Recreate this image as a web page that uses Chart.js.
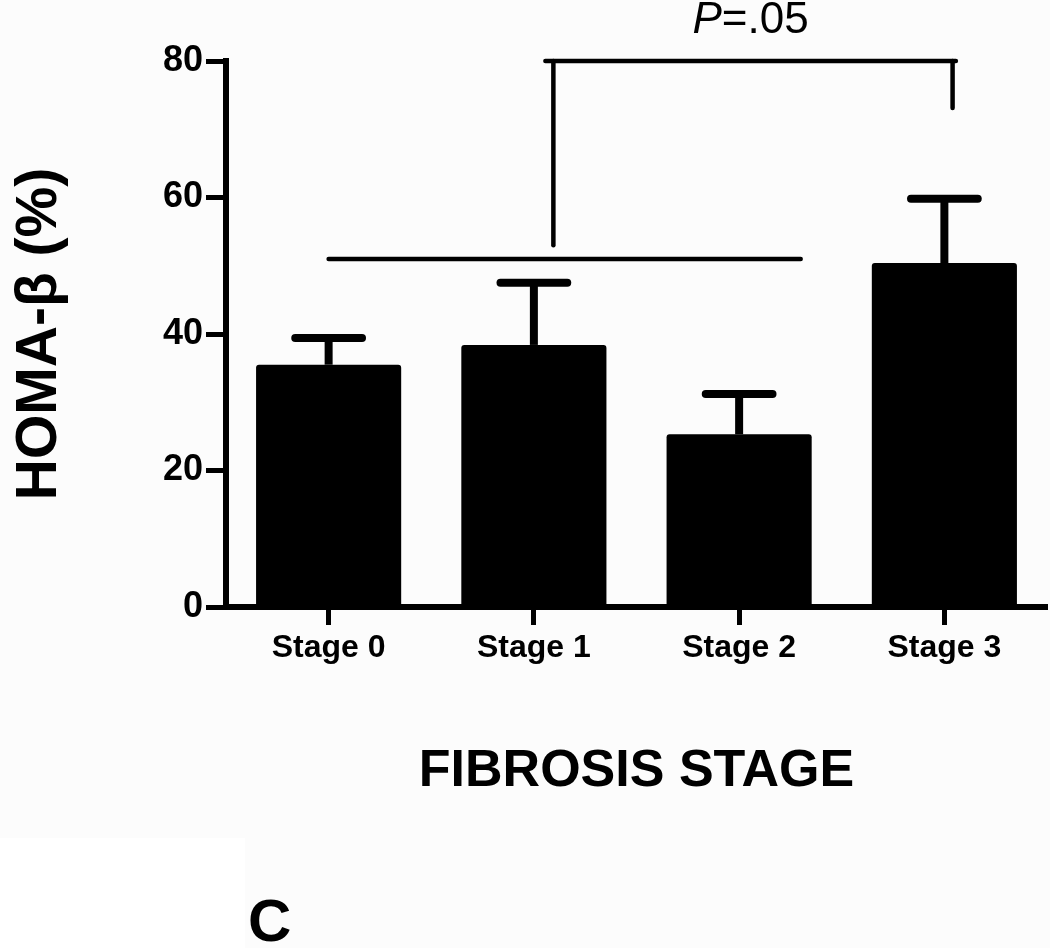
<!DOCTYPE html>
<html>
<head>
<meta charset="utf-8">
<script src="https://cdn.jsdelivr.net/npm/chart.js@4.4.0/dist/chart.umd.min.js"></script>
<style>
  html, body { margin: 0; padding: 0; background: #fcfcfc; }
  #wrap { position: relative; width: 1050px; height: 948px; }
</style>
</head>
<body>
<div id="wrap"><canvas id="myChart" width="1050" height="948"></canvas></div>
<script>
// data
const stages = ['Stage 0', 'Stage 1', 'Stage 2', 'Stage 3'];
const homaMean = [35.5, 38.4, 25.3, 50.4];
const homaUpper = [39.4, 47.5, 31.2, 59.8]; // top of error bar
const yTicks = [0, 20, 40, 60, 80];

// significance bracket, [category index, value]
const bracketLow = [[0, 51], [2.3, 51]];
const bracketLeft = [[1.095, 53], [1.095, 80]];
const bracketTop = [[1.056, 80], [3.056, 80]];
const bracketRight = [[3.04, 80], [3.04, 73.1]];
const pLabel = ['P', '=.05'];
const panelLabel = 'C';

Chart.defaults.font.family = "'Liberation Sans', Arial, sans-serif";
Chart.defaults.color = '#000';

// error bars + bracket + extra text
const extras = {
    id: 'extras',
    beforeDraw(chart) {
        const ctx = chart.ctx;
        ctx.save();
        ctx.fillStyle = '#ffffff';
        ctx.fillRect(0, 838, 245, 110);
        ctx.restore();
    },
    afterDatasetsDraw(chart) {
        const { ctx, scales: { x, y } } = chart;
        const meta = chart.getDatasetMeta(0);
        ctx.save();
        ctx.strokeStyle = '#000';

        meta.data.forEach((bar, i) => {
            const cx = bar.x;
            const top = y.getPixelForValue(homaMean[i]);
            const up = y.getPixelForValue(homaUpper[i]);
            const half = bar.width * 0.23;
            ctx.lineWidth = 8;
            ctx.lineCap = 'butt';
            ctx.beginPath();
            ctx.moveTo(cx, top);
            ctx.lineTo(cx, up);
            ctx.stroke();
            ctx.lineCap = 'round';
            ctx.beginPath();
            ctx.moveTo(cx - half, up);
            ctx.lineTo(cx + half, up);
            ctx.stroke();
        });

        ctx.lineWidth = 4.5;
        ctx.lineCap = 'round';
        [bracketLow, bracketLeft, bracketTop, bracketRight].forEach(seg => {
            ctx.beginPath();
            ctx.moveTo(x.getPixelForValue(seg[0][0]), y.getPixelForValue(seg[0][1]));
            ctx.lineTo(x.getPixelForValue(seg[1][0]), y.getPixelForValue(seg[1][1]));
            ctx.stroke();
        });

        // P=.05 over the bracket
        const mid = (x.getPixelForValue(bracketTop[0][0]) + x.getPixelForValue(bracketTop[1][0])) / 2;
        const base = y.getPixelForValue(bracketTop[0][1]) - 28;
        ctx.fillStyle = '#000';
        ctx.textBaseline = 'alphabetic';
        ctx.textAlign = 'left';
        ctx.font = "italic 44px 'Liberation Sans', Arial, sans-serif";
        const w1 = ctx.measureText(pLabel[0]).width;
        ctx.font = "44px 'Liberation Sans', Arial, sans-serif";
        const w2 = ctx.measureText(pLabel[1]).width;
        let sx = mid - (w1 + w2) / 2;
        ctx.font = "italic 44px 'Liberation Sans', Arial, sans-serif";
        ctx.fillText(pLabel[0], sx, base);
        ctx.font = "44px 'Liberation Sans', Arial, sans-serif";
        ctx.fillText(pLabel[1], sx + w1, base);

        // panel letter
        ctx.font = "bold 60px 'Liberation Sans', Arial, sans-serif";
        ctx.fillText(panelLabel, 248, 941);
        ctx.restore();
    }
};

const ctx = document.getElementById('myChart').getContext('2d');
const myChart = new Chart(ctx, {
    type: 'bar',
    data: {
        labels: stages,
        datasets: [{
            label: 'HOMA-β',
            data: homaMean,
            backgroundColor: '#000',
            borderWidth: 0,
            borderRadius: 3,
            categoryPercentage: 1,
            barPercentage: 0.707
        }]
    },
    options: {
        responsive: false,
        animation: false,
        layout: { padding: { top: 61, right: 3, left: 0, bottom: 0 } },
        plugins: {
            legend: { display: false },
            tooltip: { enabled: false }
        },
        scales: {
            x: {
                grid: {
                    drawOnChartArea: false,
                    offset: false,
                    tickLength: 18,
                    tickWidth: 5,
                    tickColor: '#000'
                },
                border: { display: true, color: '#000', width: 6 },
                ticks: {
                    color: '#000',
                    font: { size: 32, weight: 'bold' },
                    padding: 4,
                    maxRotation: 0
                },
                title: {
                    display: true,
                    text: 'FIBROSIS STAGE',
                    color: '#000',
                    font: { size: 52, weight: 'bold', lineHeight: 1 },
                    padding: { top: 0, bottom: 150 }
                },
                afterFit: s => { s.height = 341; }
            },
            y: {
                min: 0,
                max: 80,
                afterBuildTicks: s => { s.ticks = yTicks.map(v => ({ value: v })); },
                grid: {
                    drawOnChartArea: false,
                    tickLength: 20,
                    tickWidth: 5,
                    tickColor: '#000'
                },
                border: { display: true, color: '#000', width: 6 },
                ticks: {
                    color: '#000',
                    font: { size: 36, weight: 'bold' },
                    padding: 3
                },
                title: {
                    display: true,
                    text: 'HOMA-β (%)',
                    color: '#000',
                    font: { size: 57, weight: 'bold', lineHeight: 1 },
                    padding: { top: 12, bottom: 0 }
                },
                afterFit: s => { s.width = 226; }
            }
        }
    },
    plugins: [extras]
});
</script>
</body>
</html>
